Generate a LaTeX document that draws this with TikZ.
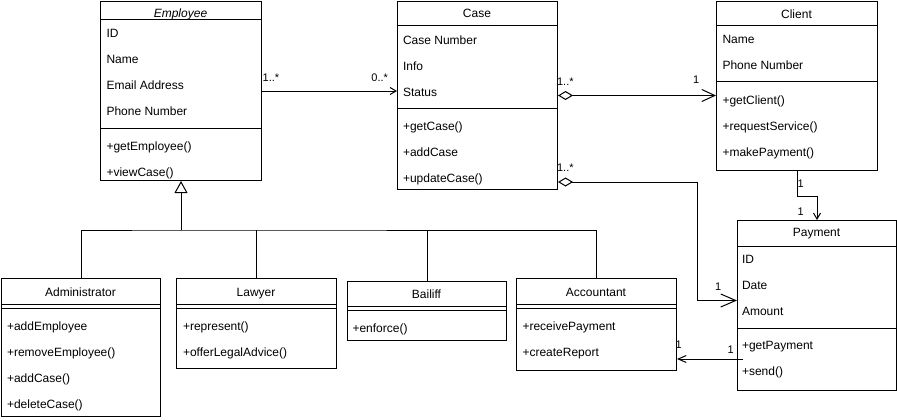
\documentclass[tikz,border=0pt]{standalone}
\usepackage{fontspec}
\setmainfont{Liberation Sans}
\usetikzlibrary{arrows.meta}

\begin{document}
\begin{tikzpicture}[
  x=1pt, y=-1pt, line width=1pt,
  box/.style={draw, rectangle, anchor=north west, inner sep=0pt},
  head/.style={anchor=base, inner sep=0pt, font=\fontsize{12}{14}\selectfont},
  members/.style={anchor=north west, align=left, inner sep=0pt, font=\fontsize{12}{26}\selectfont},
  mult/.style={anchor=base west, inner sep=0pt, font=\fontsize{11}{13}\selectfont}]
\useasboundingbox (0,0) rectangle (897,420);

% classes
\node[box, minimum width=161pt, minimum height=179pt] (emp) at (100,1) {};
\node[head, font=\fontsize{12}{14}\selectfont\itshape] (emp-t) at (180.5,17.3) {Employee};
\draw (100,20) -- (261,20) (100,128) -- (261,128);
\node[members] (emp-a) at (106,28.9) {ID\\Name\\Email Address\\Phone Number};
\node[members] (emp-m) at (106,140.9) {+getEmployee()\\+viewCase()};

\node[box, minimum width=160pt, minimum height=188pt] (cas) at (397,1) {};
\node[head] (cas-t) at (477,18) {Case};
\draw (397,26) -- (557,26) (397,108) -- (557,108);
\node[members] (cas-a) at (402.5,34.9) {Case Number\\Info\\Status};
\node[members] (cas-m) at (402.5,120.9) {+getCase()\\+addCase\\+updateCase()};

\node[box, minimum width=161pt, minimum height=169pt] (cli) at (716,1) {};
\node[head] (cli-t) at (796.5,18.3) {Client};
\draw (716,26) -- (877,26) (716,82) -- (877,82);
\node[members] (cli-a) at (722,34.9) {Name\\Phone Number};
\node[members] (cli-m) at (722,95.4) {+getClient()\\+requestService()\\+makePayment()};

\node[box, minimum width=159pt, minimum height=170pt] (pay) at (737,220) {};
\node[head] (pay-t) at (816.5,236.7) {Payment};
\draw (737,246) -- (896,246) (737,328) -- (896,328);
\node[members] (pay-a) at (741.5,254.7) {ID\\Date\\Amount};
\node[members] (pay-m) at (741.5,340.4) {+getPayment\\+send()};

\node[box, minimum width=159pt, minimum height=138pt] (adm) at (1,278) {};
\node[head] (adm-t) at (80.5,296) {Administrator};
\draw (1,304) -- (160,304) (1,308) -- (160,308);
\node[members] (adm-m) at (6.5,320.9) {+addEmployee\\+removeEmployee()\\+addCase()\\+deleteCase()};

\node[box, minimum width=160pt, minimum height=90pt] (law) at (176,278) {};
\node[head] (law-t) at (256,296) {Lawyer};
\draw (176,304) -- (336,304) (176,308) -- (336,308);
\node[members] (law-m) at (182.5,320.9) {+represent()\\+offerLegalAdvice()};

\node[box, minimum width=159pt, minimum height=59pt] (bai) at (347,281) {};
\node[head] (bai-t) at (426.5,298.3) {Bailiff};
\draw (347,306) -- (506,306) (347,310) -- (506,310);
\node[members] (bai-m) at (352,323.1) {+enforce()};

\node[box, minimum width=160pt, minimum height=92pt] (acc) at (516,278) {};
\node[head] (acc-t) at (596,296) {Accountant};
\draw (516,304) -- (676,304) (516,308) -- (676,308);
\node[members] (acc-m) at (522,320.9) {+receivePayment\\+createReport};

% generalization
\coordinate (gen) at (181,230);
\draw[-{Triangle[open, length=12pt, width=13pt]}] (gen) -- (gen |- emp.south);
\draw (adm.north) |- (gen) -| (acc.north);
\draw (law.north) -- (law.north |- gen);
\draw (bai.north) -- (bai.north |- gen);

% associations
\draw[-{Straight Barb[length=6pt, width=7pt]}] (emp.east) -- (emp.east -| cas.west);
\draw[{Diamond[open, length=15pt, width=9pt]}-{Straight Barb[length=13pt, width=12pt]}]
  (cas.east) -- (cas.east -| cli.west);
\draw[{Diamond[open, length=15pt, width=9pt]}-{Straight Barb[length=15pt, width=13pt]}]
  ([yshift=8pt]cas.south east) -- ++(139,0) |- ([yshift=5pt]pay.west);
\draw[-{Straight Barb[length=6pt, width=7pt]}] (cli.south) -- ++(0,25) -| (pay.north);
\coordinate (send) at (743,359);
\draw[-{Straight Barb[length=8pt, width=7pt]}] (send) -- (send -| acc.east);

% multiplicities
\node[mult] (ec1) at (262.2,81.5) {1..*};
\node[mult, anchor=base east] (ec2) at (388.5,81.5) {0..*};
\node[mult] (cc1) at (556.6,85) {1..*};
\node[mult, anchor=base east] (cc2) at (699.8,83.5) {1};
\node[mult] (cp1) at (556.6,171.5) {1..*};
\node[mult, anchor=base east] (cp2) at (721.8,290.5) {1};
\node[mult] (cl1) at (797,187) {1};
\node[mult] (cl2) at (797,215) {1};
\node[mult] (pa1) at (675,348) {1};
\node[mult] (pa2) at (727,353) {1};
\end{tikzpicture}
\end{document}
